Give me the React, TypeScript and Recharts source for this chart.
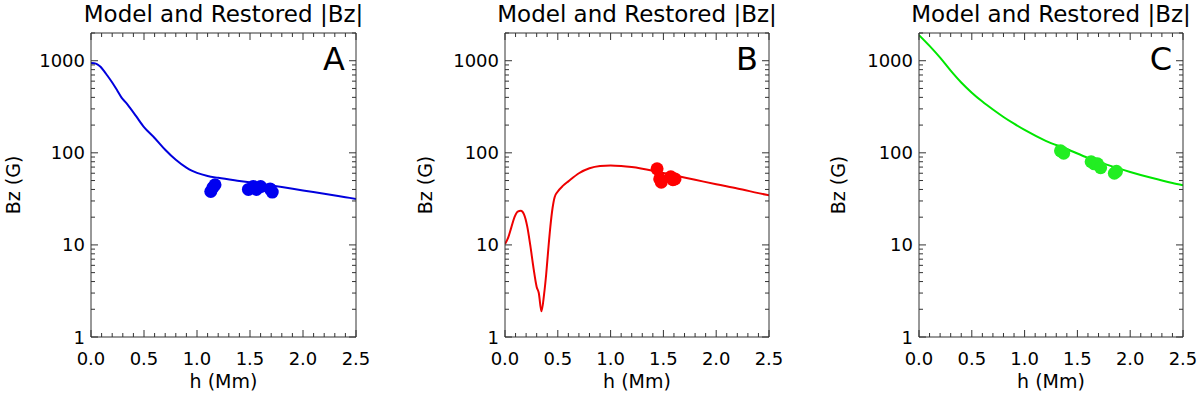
import React from 'react';
import { ComposedChart, Line, Scatter, XAxis, YAxis } from 'recharts';

const FONT = '"DejaVu Sans", Verdana, sans-serif';
const AXIS = '#333333';

// tick positions and labels
const xTicks = [0, 0.1, 0.2, 0.3, 0.4, 0.5, 0.6, 0.7, 0.8, 0.9, 1.0, 1.1, 1.2, 1.3, 1.4, 1.5, 1.6, 1.7, 1.8, 1.9, 2.0, 2.1, 2.2, 2.3, 2.4, 2.5];
const xLabelTicks = [0, 0.5, 1.0, 1.5, 2.0, 2.5];
const yTicks = [1, 2, 3, 4, 5, 6, 7, 8, 9, 10, 20, 30, 40, 50, 60, 70, 80, 90, 100, 200, 300, 400, 500, 600, 700, 800, 900, 1000, 2000];
const yLabelTicks = [1, 10, 100, 1000];

// Panel A (blue) model curve
const modelA_h = [0, 0.03, 0.06, 0.09, 0.12, 0.15, 0.2, 0.25, 0.29, 0.33, 0.37, 0.42, 0.5, 0.6, 0.7, 0.8, 0.9, 0.95, 1.0, 1.1, 1.2, 1.4, 1.6, 1.8, 2.0, 2.2, 2.4, 2.5];
const modelA_bz = [945, 940, 915, 860, 780, 700, 580, 470, 395, 350, 305, 255, 190, 145, 108, 84, 69, 64, 60.5, 56, 53.5, 49.5, 46, 42.5, 39, 36, 33, 31.6];
const restoredA_h = [1.13, 1.15, 1.17, 1.485, 1.53, 1.56, 1.6, 1.69, 1.71];
const restoredA_bz = [38, 42, 45, 40, 43, 40, 43, 40.5, 37.5];

// Panel B (red) model curve
const modelB_h = [0, 0.03, 0.06, 0.09, 0.12, 0.15, 0.18, 0.21, 0.24, 0.27, 0.3, 0.32, 0.345, 0.37, 0.39, 0.41, 0.43, 0.45, 0.47, 0.5, 0.55, 0.6, 0.7, 0.8, 0.9, 1.0, 1.1, 1.2, 1.4, 1.6, 1.8, 2.0, 2.2, 2.4, 2.5];
const modelB_bz = [10.2, 12, 15.5, 20, 23, 23.5, 21.5, 16, 9.8, 5.6, 3.5, 3.0, 1.9, 2.9, 4.8, 9, 16, 25, 33, 38, 44, 49, 60, 68, 72, 73, 72, 70, 64, 57, 51, 45.5, 41, 36.5, 34.5];
const restoredB_h = [1.44, 1.465, 1.48, 1.57, 1.59, 1.61];
const restoredB_bz = [67, 52, 48, 55, 51, 52];

// Panel C (green) model curve
const modelC_h = [0, 0.1, 0.2, 0.3, 0.4, 0.5, 0.6, 0.7, 0.8, 0.9, 1.0, 1.2, 1.4, 1.6, 1.8, 2.0, 2.2, 2.4, 2.5];
const modelC_bz = [1900, 1450, 1080, 780, 580, 450, 360, 295, 245, 207, 177, 135, 110, 88, 73, 62, 53.5, 47, 44.5];
const restoredC_h = [1.34, 1.37, 1.63, 1.66, 1.69, 1.72, 1.85, 1.87];
const restoredC_bz = [105, 99, 80, 76, 76, 69, 60, 63];

const zip = (hs: number[], vs: number[]) => hs.map((h, i) => ({ h, v: vs[i] }));

const isMajorX = (v: number) => xLabelTicks.some((t) => Math.abs(t - v) < 1e-6);
const isMajorY = (v: number) => yLabelTicks.some((t) => Math.abs(t - v) < 1e-6);

const MAJ = 7;
const MIN = 4;

const BottomTick = (p: any) => {
  const v = p.payload.value;
  const major = isMajorX(v);
  return (
    <g>
      <line x1={p.x} x2={p.x} y1={p.y} y2={p.y - (major ? MAJ : MIN)} stroke={AXIS} strokeWidth={1} />
      {major && (
        <text x={p.x} y={p.y + 28} textAnchor="middle" fontSize={18} fontFamily={FONT} fill="#000">
          {v.toFixed(1)}
        </text>
      )}
    </g>
  );
};

const TopTick = (p: any) => {
  const v = p.payload.value;
  const major = isMajorX(v);
  return <line x1={p.x} x2={p.x} y1={p.y} y2={p.y + (major ? MAJ : MIN)} stroke={AXIS} strokeWidth={1} />;
};

const LeftTick = (p: any) => {
  const v = p.payload.value;
  const major = isMajorY(v);
  return (
    <g>
      <line x1={p.x} x2={p.x + (major ? MAJ : MIN)} y1={p.y} y2={p.y} stroke={AXIS} strokeWidth={1} />
      {major && (
        <text x={p.x - 6} y={p.y} dy={6.5} textAnchor="end" fontSize={18} fontFamily={FONT} fill="#000">
          {String(v)}
        </text>
      )}
    </g>
  );
};

const RightTick = (p: any) => {
  const v = p.payload.value;
  const major = isMajorY(v);
  return <line x1={p.x} x2={p.x - (major ? MAJ : MIN)} y1={p.y} y2={p.y} stroke={AXIS} strokeWidth={1} />;
};

type PanelProps = {
  model: { h: number; v: number }[];
  restored: { h: number; v: number }[];
  lineColor: string;
  dotColor: string;
  left: number;
  right: number;
};

const TOP = 33;
const BOTTOM = 56;

const Panel = ({ model, restored, lineColor, dotColor, left, right }: PanelProps) => (
  <ComposedChart width={400} height={393} margin={{ top: TOP - 1, right: right - 1, bottom: BOTTOM - 1, left: left - 1 }}>
    <XAxis
      xAxisId="b"
      dataKey="h"
      type="number"
      domain={[0, 2.5]}
      ticks={xTicks}
      interval={0}
      tick={BottomTick}
      tickLine={false}
      tickSize={0}
      tickMargin={0}
      height={1}
      axisLine={{ stroke: AXIS }}
      allowDataOverflow
    />
    <XAxis
      xAxisId="t"
      orientation="top"
      dataKey="h"
      type="number"
      domain={[0, 2.5]}
      ticks={xTicks}
      interval={0}
      tick={TopTick}
      tickLine={false}
      tickSize={0}
      tickMargin={0}
      height={1}
      axisLine={{ stroke: AXIS }}
      allowDataOverflow
    />
    <YAxis
      yAxisId="l"
      dataKey="v"
      type="number"
      scale="log"
      domain={[1, 2000]}
      ticks={yTicks}
      interval={0}
      tick={LeftTick}
      tickLine={false}
      tickSize={0}
      tickMargin={0}
      width={1}
      axisLine={{ stroke: AXIS }}
      allowDataOverflow
    />
    <YAxis
      yAxisId="r"
      orientation="right"
      dataKey="v"
      type="number"
      scale="log"
      domain={[1, 2000]}
      ticks={yTicks}
      interval={0}
      tick={RightTick}
      tickLine={false}
      tickSize={0}
      tickMargin={0}
      width={1}
      axisLine={{ stroke: AXIS }}
      allowDataOverflow
    />
    <Line
      xAxisId="b"
      yAxisId="l"
      data={model}
      dataKey="v"
      type="monotone"
      stroke={lineColor}
      strokeWidth={2}
      dot={false}
      activeDot={false}
      isAnimationActive={false}
    />
    <Scatter
      xAxisId="t"
      yAxisId="r"
      data={restored}
      dataKey="v"
      isAnimationActive={false}
      shape={(s: any) => <circle cx={s.cx} cy={s.cy} r={6.5} fill={dotColor} />}
    />
  </ComposedChart>
);

const panels = [
  { key: 'A', model: zip(modelA_h, modelA_bz), restored: zip(restoredA_h, restoredA_bz), lineColor: '#0000dd', dotColor: '#0000f0', left: 91, right: 44, ylab: 71 },
  { key: 'B', model: zip(modelB_h, modelB_bz), restored: zip(restoredB_h, restoredB_bz), lineColor: '#ee0000', dotColor: '#ff0000', left: 105, right: 31, ylab: 73 },
  { key: 'C', model: zip(modelC_h, modelC_bz), restored: zip(restoredC_h, restoredC_bz), lineColor: '#00e600', dotColor: '#22ee22', left: 119, right: 17, ylab: 74 },
];

export default function App() {
  return (
    <div style={{ position: 'absolute', left: 0, top: 0, width: 1200, height: 393, overflow: 'hidden', background: '#fff' }}>
      {panels.map((p, i) => (
        <div key={p.key} style={{ position: 'absolute', left: i * 400, top: 0, width: 400, height: 393 }}>
          <Panel model={p.model} restored={p.restored} lineColor={p.lineColor} dotColor={p.dotColor} left={p.left} right={p.right} />
        </div>
      ))}
      <svg width={1200} height={393} style={{ position: 'absolute', left: 0, top: 0, pointerEvents: 'none' }}>
        {panels.map((p, i) => {
          const x0 = i * 400 + p.left;
          const x1 = i * 400 + 400 - p.right;
          const cx = (x0 + x1) / 2;
          const cy = (TOP + (393 - BOTTOM)) / 2;
          const bx = x0 - p.ylab;
          return (
            <g key={p.key} fontFamily={FONT} fill="#000">
              <text x={cx} y={22} textAnchor="middle" fontSize={23}>Model and Restored |Bz|</text>
              <text x={x1 - 11} y={70} textAnchor="end" fontSize={32}>{p.key}</text>
              <text x={cx} y={388} textAnchor="middle" fontSize={19}>h (Mm)</text>
              <text x={bx} y={cy} textAnchor="middle" fontSize={19} transform={`rotate(-90, ${bx}, ${cy})`}>Bz (G)</text>
            </g>
          );
        })}
      </svg>
    </div>
  );
}
